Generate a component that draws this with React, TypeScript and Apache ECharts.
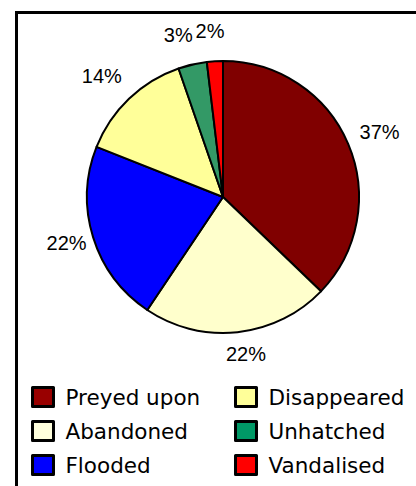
import React, { useEffect, useRef } from "react";
import * as echarts from "echarts";

const categories = ["Preyed upon", "Abandoned", "Flooded", "Disappeared", "Unhatched", "Vandalised"];
const values = [37.2, 22.2, 21.6, 13.7, 3.4, 1.9];
const sliceColors = ["#800000", "#FFFFCC", "#0000FF", "#FFFF99", "#339966", "#FF0000"];
const legendColors = ["#990000", "#FFFFDD", "#0000FF", "#FFFF99", "#009966", "#FF0000"];
const legendCol1 = ["Preyed upon", "Abandoned", "Flooded"];
const legendCol2 = ["Disappeared", "Unhatched", "Vandalised"];
const labelNudge = [[2, 1], [5, -10], [4, -4], [-5, 0], [-7, 2], [-3, 2]];

export default function App() {
  const ref = useRef<HTMLDivElement>(null);
  useEffect(() => {
    if (!ref.current) return;
    const chart = echarts.init(ref.current, undefined, { renderer: "svg" });
    const legendItem = (n: string) => ({
      name: n,
      itemStyle: { color: legendColors[categories.indexOf(n)], borderColor: "#000", borderWidth: 3 },
    });
    const legendBase = {
      orient: "vertical" as const,
      top: 381,
      height: 110,
      itemWidth: 21,
      itemHeight: 19,
      itemGap: 12,
      icon: "rect",
      selectedMode: false,
      textStyle: {
        fontFamily: "DejaVu Sans",
        fontSize: 21.5,
        lineHeight: 19,
        color: "#000",
        padding: [0, 0, 0, 7],
      },
    };
    const data = categories.map((c, i) => ({ name: c, value: values[i], itemStyle: { color: sliceColors[i] } }));
    chart.setOption({
      animation: false,
      graphic: [
        {
          type: "rect",
          shape: { x: 16.5, y: 12.5, width: 420, height: 500 },
          style: { fill: "none", stroke: "#000", lineWidth: 3 },
          silent: true,
        },
      ],
      legend: [
        { ...legendBase, left: 26, data: legendCol1.map(legendItem) },
        { ...legendBase, left: 229, data: legendCol2.map(legendItem) },
      ],
      series: [
        {
          type: "pie",
          center: [223, 197],
          radius: [0, 136],
          startAngle: 90,
          clockwise: true,
          silent: true,
          label: { show: false },
          labelLine: { show: false },
          itemStyle: { borderColor: "#000", borderWidth: 2 },
          emphasis: { disabled: true },
          data,
        },
        {
          type: "pie",
          center: [223, 197],
          radius: [140, 190],
          startAngle: 90,
          clockwise: true,
          silent: true,
          minShowLabelAngle: 0,
          avoidLabelOverlap: false,
          itemStyle: { color: "transparent", borderWidth: 0 },
          label: {
            show: true,
            position: "inside",
            fontFamily: "Liberation Sans",
            fontSize: 20,
            color: "#000",
            formatter: (p: any) => Math.round(p.value) + "%",
          },
          labelLayout: (p: any) => ({
            hideOverlap: false,
            dx: labelNudge[p.dataIndex][0],
            dy: labelNudge[p.dataIndex][1],
          }),
          labelLine: { show: false },
          emphasis: { disabled: true },
          data: categories.map((c, i) => ({ name: c, value: values[i] })),
        },
      ],
    });
    return () => chart.dispose();
  }, []);
  return (
    <div
      ref={ref}
      style={{ position: "fixed", left: 0, top: 0, width: 416, height: 486, background: "#fff" }}
    />
  );
}
